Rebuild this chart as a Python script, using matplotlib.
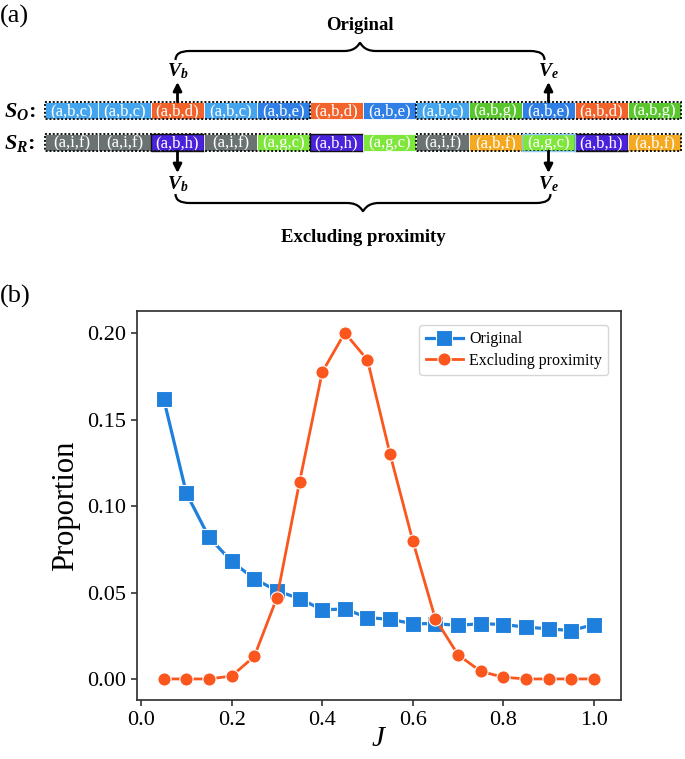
import numpy as np
import matplotlib
matplotlib.use("Agg")
import matplotlib.pyplot as plt
from matplotlib.patches import Rectangle, PathPatch
from matplotlib.path import Path

plt.rcParams['font.family'] = ['Liberation Serif', 'DejaVu Serif']
plt.rcParams['mathtext.fontset'] = 'custom'
plt.rcParams['mathtext.rm'] = 'Liberation Serif'
plt.rcParams['mathtext.it'] = 'Liberation Serif:italic'
plt.rcParams['mathtext.bf'] = 'Liberation Serif:bold'
plt.rcParams['mathtext.bfit'] = 'Liberation Serif:italic:bold'

# ---------------- data ----------------
J = [0.05, 0.10, 0.15, 0.20, 0.25, 0.30, 0.35, 0.40, 0.45, 0.50,
     0.55, 0.60, 0.65, 0.70, 0.75, 0.80, 0.85, 0.90, 0.95, 1.00]
original = [0.162, 0.1075, 0.082, 0.068, 0.058, 0.051, 0.0465, 0.040, 0.0405, 0.0355,
            0.0345, 0.032, 0.032, 0.031, 0.032, 0.0315, 0.030, 0.029, 0.028, 0.0315]
excluding = [0.000, 0.000, 0.000, 0.0017, 0.013, 0.047, 0.114, 0.1775, 0.2003, 0.1846,
             0.130, 0.080, 0.0347, 0.014, 0.0044, 0.001, 0.000, 0.000, 0.000, 0.000]
series_labels = ["Original", "Excluding proximity"]
xticks = [0.0, 0.2, 0.4, 0.6, 0.8, 1.0]
yticks = [0.00, 0.05, 0.10, 0.15, 0.20]

so_cells = ["(a,b,c)", "(a,b,c)", "(a,b,d)", "(a,b,c)", "(a,b,e)", "(a,b,d)",
            "(a,b,e)", "(a,b,c)", "(a,b,g)", "(a,b,e)", "(a,b,d)", "(a,b,g)"]
sr_cells = ["(a,i,f)", "(a,i,f)", "(a,b,h)", "(a,i,f)", "(a,g,c)", "(a,b,h)",
            "(a,g,c)", "(a,i,f)", "(a,b,f)", "(a,g,c)", "(a,b,h)", "(a,b,f)"]
cell_colors = {
    "(a,b,c)": "#45a4ee",
    "(a,b,d)": "#f2632c",
    "(a,b,e)": "#2f7fe6",
    "(a,b,g)": "#58c62c",
    "(a,i,f)": "#6a7371",
    "(a,b,h)": "#4a22dc",
    "(a,g,c)": "#7fe63c",
    "(a,b,f)": "#f5a920",
}

BLUE = "#1E80DC"
ORANGE = "#FA561E"

fig = plt.figure(figsize=(6.85, 7.59), dpi=100)

# ---------------- top diagram (pixel coordinates) ----------------
axd = fig.add_axes([0, 0, 1, 1])
axd.set_xlim(0, 685)
axd.set_ylim(759, 0)
axd.axis('off')

x0 = 45.0
cw = 53.0
rows = [(so_cells, 102.0, 17.0), (sr_cells, 134.0, 17.0)]
for cells, ytop, h in rows:
    for i, c in enumerate(cells):
        ec = 'white'
        lw = 0.6
        if c == "(a,b,h)":
            ec = '#111111'
            lw = 1.0
        axd.add_patch(Rectangle((x0 + i * cw, ytop), cw, h, facecolor=cell_colors[c],
                                edgecolor=ec, lw=lw, zorder=2))
        axd.text(x0 + (i + 0.5) * cw, ytop + h / 2 + 0.5, c, color='white', fontsize=12,
                 ha='center', va='center', zorder=3)
    for a, b in [(0, 5), (7, 12)]:
        axd.add_patch(Rectangle((x0 + a * cw, ytop), (b - a) * cw, h, fill=False,
                                edgecolor='#111111', lw=1.4, ls=(0, (1, 1)), zorder=4))
# light-blue outline on S_R cell 9
axd.add_patch(Rectangle((x0 + 9 * cw, 134.0), cw, 17.0, fill=False,
                        edgecolor='#8ccaf5', lw=1.0, zorder=4))

axd.text(4, 112, r'$\mathbfit{S_O}$:', fontsize=16, fontweight='bold', va='center', ha='left')
axd.text(4, 144, r'$\mathbfit{S_R}$:', fontsize=16, fontweight='bold', va='center', ha='left')

axd.text(0, 16, '(a)', fontsize=19, va='center', ha='left')
axd.text(0, 296, '(b)', fontsize=19, va='center', ha='left')

xb = x0 + 2.5 * cw
xe = x0 + 9.5 * cw
arrow_kw = dict(arrowstyle='-|>,head_length=0.5,head_width=0.25', color='black', lw=2.0,
                shrinkA=0, shrinkB=0)
for xa in (xb, xe):
    axd.annotate('', xy=(xa, 82), xytext=(xa, 102), arrowprops=arrow_kw, zorder=5)
    axd.annotate('', xy=(xa, 173), xytext=(xa, 151), arrowprops=arrow_kw, zorder=5)

axd.text(xb, 71, r'$\mathbfit{V_b}$', fontsize=14, ha='center', va='center')
axd.text(xe, 71, r'$\mathbfit{V_e}$', fontsize=14, ha='center', va='center')
axd.text(xb, 184, r'$\mathbfit{V_b}$', fontsize=14, ha='center', va='center')
axd.text(xe, 184, r'$\mathbfit{V_e}$', fontsize=14, ha='center', va='center')


def brace(ax, xa, xb_, y_line, y_end, y_tip):
    mid = 0.5 * (xa + xb_)
    r = 14.0
    t = 16.0
    verts = [
        (xa, y_end),
        (xa, y_line), (xa + r, y_line),
        (mid - t, y_line),
        (mid - 3, y_line), (mid - 1, y_tip), (mid, y_tip),
        (mid + 1, y_tip), (mid + 3, y_line), (mid + t, y_line),
        (xb_ - r, y_line),
        (xb_, y_line), (xb_, y_end),
    ]
    codes = [Path.MOVETO,
             Path.CURVE3, Path.CURVE3,
             Path.LINETO,
             Path.CURVE4, Path.CURVE4, Path.CURVE4,
             Path.CURVE4, Path.CURVE4, Path.CURVE4,
             Path.LINETO,
             Path.CURVE3, Path.CURVE3]
    ax.add_patch(PathPatch(Path(verts, codes), fill=False, lw=1.6, edgecolor='black'))
    return mid


mtop = brace(axd, xb - 2, xe - 4, 51, 60, 43)
axd.text(mtop, 26, 'Original', fontsize=13.5, fontweight='bold', ha='center', va='center')
mbot = brace(axd, xb - 2, xe + 2, 203, 194, 211)
axd.text(mbot, 238, 'Excluding proximity', fontsize=13.5, fontweight='bold',
         ha='center', va='center')

# ---------------- line chart ----------------
ax = fig.add_axes([0.2, 0.0777, 0.7066, 0.5125])
ax.plot(J, original, color=BLUE, lw=2.3, marker='s', markersize=11,
        markeredgecolor='white', markeredgewidth=0.8, label=series_labels[0], zorder=3)
ax.plot(J, excluding, color=ORANGE, lw=2.0, marker='o', markersize=9.5,
        markeredgecolor='white', markeredgewidth=0.8, label=series_labels[1], zorder=3)
ax.set_xlim(-0.009, 1.06)
ax.set_ylim(-0.0122, 0.2129)
ax.set_xticks(xticks)
ax.set_yticks(yticks)
ax.set_xticklabels([f"{v:.1f}" for v in xticks])
ax.set_yticklabels([f"{v:.2f}" for v in yticks])
for s in ax.spines.values():
    s.set_color('#333333')
    s.set_linewidth(1.25)
ax.tick_params(direction='out', length=4, width=1.2, color='#333333',
               labelsize=16, pad=4)
ax.set_ylabel('Proportion', fontsize=22, labelpad=5)
ax.set_xlabel(r'$J$', fontsize=21, labelpad=-3)
leg = ax.legend(loc='upper right', fontsize=11.5, frameon=True, fancybox=True,
                edgecolor='#cccccc', borderpad=0.4, handlelength=2.3, handletextpad=0.4,
                labelspacing=0.35, bbox_to_anchor=(0.99, 0.985))
leg.get_frame().set_linewidth(1.0)

fig.savefig('out.png', dpi=100)
